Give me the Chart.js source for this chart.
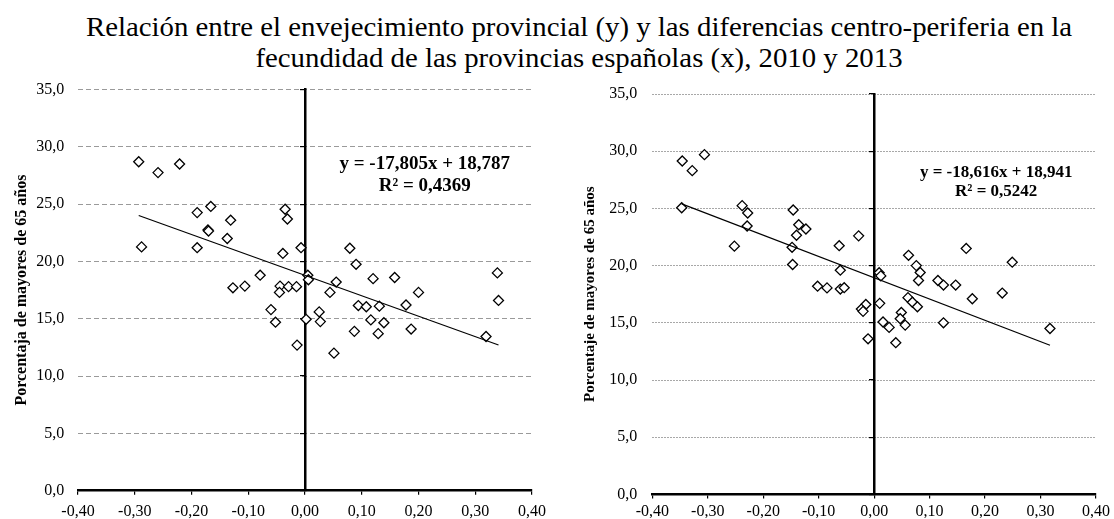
<!DOCTYPE html>
<html><head><meta charset="utf-8">
<script src="https://cdn.jsdelivr.net/npm/chart.js@4"></script>
<style>
html,body{margin:0;padding:0;background:#fff;width:1114px;height:519px;overflow:hidden;}
#title{position:absolute;left:44px;width:1070px;top:12px;text-align:center;font-family:'Liberation Serif','Times New Roman',serif;font-size:26.5px;line-height:31px;color:#000;transform:scaleX(1.087);transform-origin:50% 0;}
.box{position:absolute;top:0;height:519px;width:557px;}
#b1{left:0;}
#b2{left:557px;}
</style></head><body>
<div id="title">Relación entre el envejecimiento provincial (y) y las diferencias centro-periferia en la<br>fecundidad de las provincias españolas (x), 2010 y 2013</div>
<div class="box" id="b1"><canvas id="c1"></canvas></div>
<div class="box" id="b2"><canvas id="c2"></canvas></div>
<script>
// ---- data ----
const x2010 = [-0.293,-0.259,-0.221,-0.288,-0.190,-0.166,-0.171,-0.170,-0.131,-0.137,-0.190,-0.035,-0.031,-0.039,-0.007,-0.079,-0.127,-0.106,-0.044,-0.045,-0.029,-0.015,-0.060,-0.052,-0.014,0.002,0.005,0.006,0.079,0.090,0.055,0.044,0.120,0.158,0.200,0.339,0.341,0.025,0.027,0.094,0.108,0.131,0.178,0.116,0.139,0.087,0.129,0.187,0.319,0.051];
const y2010 = [28.7,27.75,28.5,21.27,24.26,24.8,22.75,22.65,23.6,22.0,21.2,24.55,23.7,20.7,21.2,18.8,17.7,17.85,17.85,17.3,17.8,17.8,15.8,14.7,12.7,14.95,18.8,18.4,21.15,19.75,18.2,17.3,18.5,18.6,17.3,19.0,16.6,15.6,14.75,16.15,16.05,16.1,16.2,14.9,14.65,13.9,13.7,14.1,13.45,12.0];
const x2013 = [-0.346,-0.328,-0.306,-0.347,-0.238,-0.228,-0.229,-0.252,-0.146,-0.136,-0.123,-0.140,-0.148,-0.147,-0.063,-0.028,-0.061,-0.102,-0.085,-0.061,-0.054,-0.015,-0.023,-0.020,-0.011,0.009,0.012,0.010,0.062,0.076,0.083,0.080,0.115,0.125,0.147,0.166,0.249,0.231,0.177,0.061,0.069,0.078,0.049,0.047,0.056,0.016,0.027,0.039,0.125,0.317];
const y2013 = [29.14,28.3,29.7,25.06,25.24,24.6,23.46,21.7,24.86,23.57,23.2,22.65,21.6,20.1,21.74,22.6,19.6,18.2,18.05,17.95,18.07,16.6,16.2,16.0,13.6,19.38,19.1,16.7,20.9,20.0,19.4,18.7,18.7,18.3,18.3,21.5,20.3,17.6,17.1,17.2,16.8,16.4,15.9,15.36,14.8,15.07,14.6,13.26,15.0,14.5];
// trend lines as printed on the charts
const trend2010 = {slope:-17.805, intercept:18.787, eq:'y = -17,805x + 18,787', r2:'R² = 0,4369'};
const trend2013 = {slope:-18.616, intercept:18.941, eq:'y = -18,616x + 18,941', r2:'R² = 0,5242'};
const xTickMin = -0.4, xTickMax = 0.4, xTickStep = 0.1;
const yTickMin = 0, yTickMax = 35, yTickStep = 5;
const yTitle2010 = 'Porcentaja de mayores de 65 años';
const yTitle2013 = 'Porcentaje de mayores de 65 años';

const SERIF = "'Liberation Serif','Times New Roman',serif";
const fmtX = v => Number(v).toFixed(2).replace('.', ',');
const fmtY = v => Number(v).toFixed(1).replace('.', ',');

function makeChart(id, xs, ys, trend, yTitle, cfg) {
  const pts = xs.map((x, i) => ({x: x, y: ys[i]}));
  const minX = Math.min(...xs), maxX = Math.max(...xs);
  const line = [minX, maxX].map(x => ({x: x, y: trend.slope * x + trend.intercept}));
  const eqPlugin = {
    id: 'eq' + id,
    afterDatasetsDraw(chart) {
      const ctx = chart.ctx, sx = chart.scales.x, sy = chart.scales.y;
      ctx.save();
      ctx.fillStyle = '#000';
      ctx.textAlign = 'center';
      ctx.textBaseline = 'middle';
      ctx.font = 'bold ' + cfg.eqSize + 'px ' + SERIF;
      const px = sx.getPixelForValue(cfg.eqX);
      ctx.fillText(trend.eq, px, sy.getPixelForValue(cfg.eqY1));
      ctx.fillText(trend.r2, px, sy.getPixelForValue(cfg.eqY2));
      ctx.restore();
    }
  };
  return new Chart(document.getElementById(id), {
    type: 'scatter',
    data: {datasets: [
      {data: line, showLine: true, pointRadius: 0, borderColor: '#000', borderWidth: 1.2, fill: false, xAxisID: 'x', yAxisID: 'y'},
      {data: pts, pointStyle: 'rectRot', pointRadius: 5, pointHoverRadius: 5, backgroundColor: '#fff', borderColor: '#000', borderWidth: 1.3, xAxisID: 'x', yAxisID: 'y'}
    ]},
    options: {
      responsive: true, maintainAspectRatio: false, animation: false,
      layout: {padding: {left: 0, top: cfg.padTop, right: cfg.padRight, bottom: 0}},
      plugins: {legend: {display: false}, tooltip: {enabled: false}},
      scales: {
        x: {
          type: 'linear', min: xTickMin, max: xTickMax,
          ticks: {stepSize: xTickStep, callback: fmtX, color: '#000', font: {family: SERIF, size: 16}, padding: cfg.xPad, maxRotation: 0, autoSkip: false},
          grid: {drawOnChartArea: false, drawTicks: true, tickLength: 4, color: '#000', lineWidth: 1.2},
          border: {display: true, color: '#000', width: 2.5},
          afterFit(s) { s.height = cfg.xH; }
        },
        y: {
          type: 'linear', min: yTickMin, max: yTickMax,
          ticks: {stepSize: yTickStep, callback: fmtY, color: '#000', font: {family: SERIF, size: 16}, padding: cfg.yPad},
          grid: {drawTicks: false, color: cfg.gridColor, lineWidth: 1},
          border: {display: false, dash: cfg.dash},
          title: {display: true, text: yTitle, color: '#000', font: {family: SERIF, size: cfg.titleSize, weight: 'bold'}, padding: {top: cfg.titlePad, bottom: 0}},
          afterFit(s) { s.width = cfg.yW; }
        },
        y0: {
          type: 'linear', position: {x: 0}, min: yTickMin, max: yTickMax,
          ticks: {display: false, stepSize: yTickStep},
          grid: {drawOnChartArea: false, drawTicks: true, tickLength: 4, color: '#000', lineWidth: 1.2},
          border: {display: true, color: '#000', width: 2.5}
        }
      }
    },
    plugins: [eqPlugin]
  });
}

makeChart('c1', x2010, y2010, trend2010, yTitle2010, {
  padTop: 89.5, padRight: 25, xH: 28.3, yW: 78, xPad: 7.4, yPad: 13.7,
  titleSize: 16, titlePad: 12.4, gridColor: '#9a9a9a', dash: [5, 3],
  eqX: 0.211, eqY1: 28.5, eqY2: 26.6, eqSize: 19
});
makeChart('c2', x2013, y2013, trend2013, yTitle2013, {
  padTop: 94, padRight: 16.7, xH: 23.3, yW: 95.3, xPad: 4, yPad: 15,
  titleSize: 15, titlePad: 24, gridColor: '#a8a8a8', dash: [2, 1],
  eqX: 0.22, eqY1: 28.1, eqY2: 26.44, eqSize: 17
});
</script>
</body></html>
